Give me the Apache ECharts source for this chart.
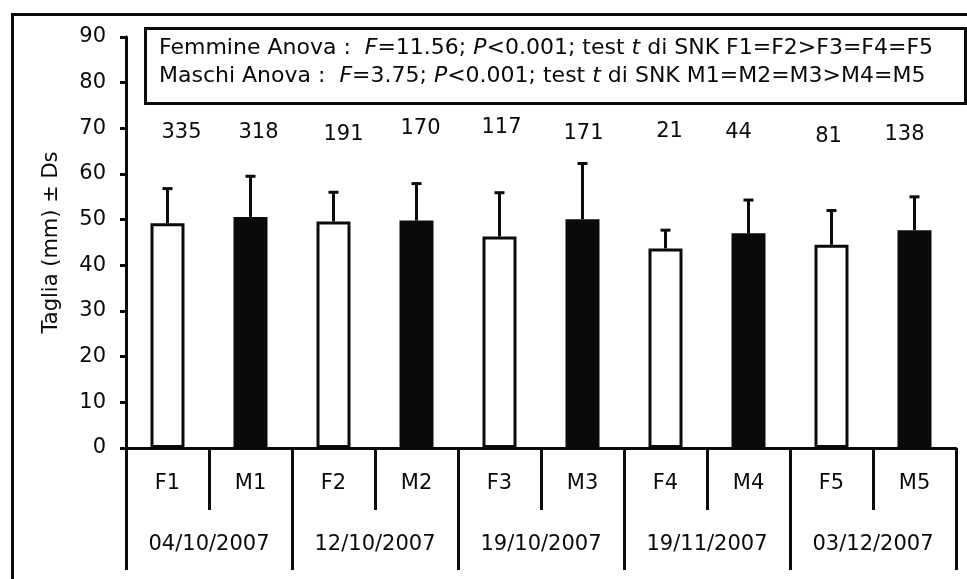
<!DOCTYPE html>
<html>
<head>
<meta charset="utf-8">
<script src="https://cdn.jsdelivr.net/npm/echarts@6/dist/echarts.min.js"></script>
<style>
  html, body { margin: 0; padding: 0; background: #fff; }
  #chart { width: 967px; height: 579px; }
</style>
</head>
<body>
<div id="chart"></div>
<script>
// Sampling groups: females (F) and males (M) per sampling date
var categories = ['F1', 'M1', 'F2', 'M2', 'F3', 'M3', 'F4', 'M4', 'F5', 'M5'];
var dates = ['04/10/2007', '12/10/2007', '19/10/2007', '19/11/2007', '03/12/2007'];
// Mean size (mm) and standard deviation
var means = [49.2, 50.6, 49.6, 49.8, 46.3, 50.1, 43.7, 47.0, 44.5, 47.7];
var sds = [7.6, 8.9, 6.4, 8.1, 9.6, 12.2, 4.0, 7.3, 7.5, 7.3];
// Sample sizes shown above each bar
var counts = [335, 318, 191, 170, 117, 171, 21, 44, 81, 138];
var countLevel = 70;
var yTicks = { min: 0, max: 90, interval: 10 };

// Hand placement of the sample-size labels (pixel nudges from the bar centre)
var countLabelNudge = [[14, 0], [8, 0], [10, 2], [4, -4], [2, -5], [1, 1], [4, -1], [-10, 0], [-3, 4], [-10, 2]];

var FONT = '"DejaVu Sans", "Liberation Sans", sans-serif';
var INK = '#0a0a0a';

var chart = echarts.init(document.getElementById('chart'), null, { renderer: 'canvas' });

var barData = means.map(function (v, i) {
  var female = categories[i].charAt(0) === 'F';
  return {
    value: v,
    itemStyle: {
      color: female ? '#ffffff' : INK,
      borderColor: INK,
      borderWidth: 3
    }
  };
});

var errData = means.map(function (v, i) { return [i, v, v + sds[i]]; });
var countData = counts.map(function (c, i) { return [i, countLevel, c]; });

var option = {
  backgroundColor: '#ffffff',
  animation: false,
  grid: { left: 126, right: 11, top: 37, bottom: 131 },
  xAxis: [
    {
      type: 'category',
      data: categories,
      position: 'bottom',
      axisLine: { lineStyle: { color: INK, width: 3 } },
      axisTick: { show: true, interval: 0, length: 62, lineStyle: { color: INK, width: 3 } },
      axisLabel: { interval: 0, margin: 25, color: INK, fontFamily: FONT, fontSize: 21 }
    },
    {
      type: 'category',
      data: dates,
      position: 'bottom',
      axisLine: { show: false },
      axisTick: { show: true, interval: 0, length: 122, lineStyle: { color: INK, width: 3 } },
      axisLabel: { interval: 0, margin: 86, color: INK, fontFamily: FONT, fontSize: 21 }
    }
  ],
  yAxis: {
    type: 'value',
    min: yTicks.min,
    max: yTicks.max,
    interval: yTicks.interval,
    name: 'Taglia (mm) ± Ds',
    nameLocation: 'middle',
    nameGap: 64,
    nameTextStyle: { color: INK, fontFamily: FONT, fontSize: 21 },
    axisLine: { show: true, lineStyle: { color: INK, width: 3 } },
    axisTick: { show: true, length: 6, lineStyle: { color: INK, width: 3 } },
    axisLabel: { color: INK, fontFamily: FONT, fontSize: 21, margin: 20 },
    splitLine: { show: false }
  },
  series: [
    {
      type: 'bar',
      xAxisIndex: 0,
      data: barData,
      barWidth: 34,
      z: 2
    },
    {
      type: 'custom',
      xAxisIndex: 0,
      data: errData,
      z: 3,
      renderItem: function (params, api) {
        var base = api.coord([api.value(0), api.value(1)]);
        var top = api.coord([api.value(0), api.value(2)]);
        var x = base[0];
        var cap = 5;
        return {
          type: 'group',
          children: [
            { type: 'line', shape: { x1: x, y1: base[1], x2: x, y2: top[1] },
              style: { stroke: INK, lineWidth: 3 } },
            { type: 'line', shape: { x1: x - cap, y1: top[1], x2: x + cap, y2: top[1] },
              style: { stroke: INK, lineWidth: 3 } }
          ]
        };
      }
    },
    {
      type: 'custom',
      xAxisIndex: 0,
      data: countData,
      z: 3,
      renderItem: function (params, api) {
        var idx = api.value(0);
        var p = api.coord([idx, api.value(1)]);
        var nudge = countLabelNudge[idx] || [0, 0];
        return {
          type: 'text',
          x: p[0] + nudge[0],
          y: p[1] + 4 + nudge[1],
          style: {
            text: String(api.value(2)),
            fill: INK,
            fontFamily: FONT,
            fontSize: 21,
            align: 'center',
            verticalAlign: 'middle'
          }
        };
      }
    }
  ],
  graphic: [
    {
      type: 'rect',
      left: 10, top: 12,
      shape: { width: 980, height: 600 },
      style: { fill: null, stroke: INK, lineWidth: 3 },
      silent: true
    },
    {
      type: 'rect',
      left: 144, top: 27,
      shape: { width: 820, height: 75 },
      style: { fill: '#fff', stroke: INK, lineWidth: 3 },
      z: 10
    },
    {
      type: 'text',
      left: 159, top: 37,
      z: 11,
      style: {
        text: '{n|Femmine Anova :  }{i|F}{n|=11.56; }{i|P}{n|<0.001; test }{i|t}{n| di SNK F1=F2>F3=F4=F5}',
        rich: {
          n: { fontFamily: FONT, fontSize: 22, fill: INK },
          i: { fontFamily: FONT, fontSize: 22, fontStyle: 'italic', fill: INK }
        }
      }
    },
    {
      type: 'text',
      left: 159, top: 65,
      z: 11,
      style: {
        text: '{n|Maschi Anova :  }{i|F}{n|=3.75; }{i|P}{n|<0.001; test }{i|t}{n| di SNK M1=M2=M3>M4=M5}',
        rich: {
          n: { fontFamily: FONT, fontSize: 22, fill: INK },
          i: { fontFamily: FONT, fontSize: 22, fontStyle: 'italic', fill: INK }
        }
      }
    }
  ]
};

chart.setOption(option);
</script>
</body>
</html>
